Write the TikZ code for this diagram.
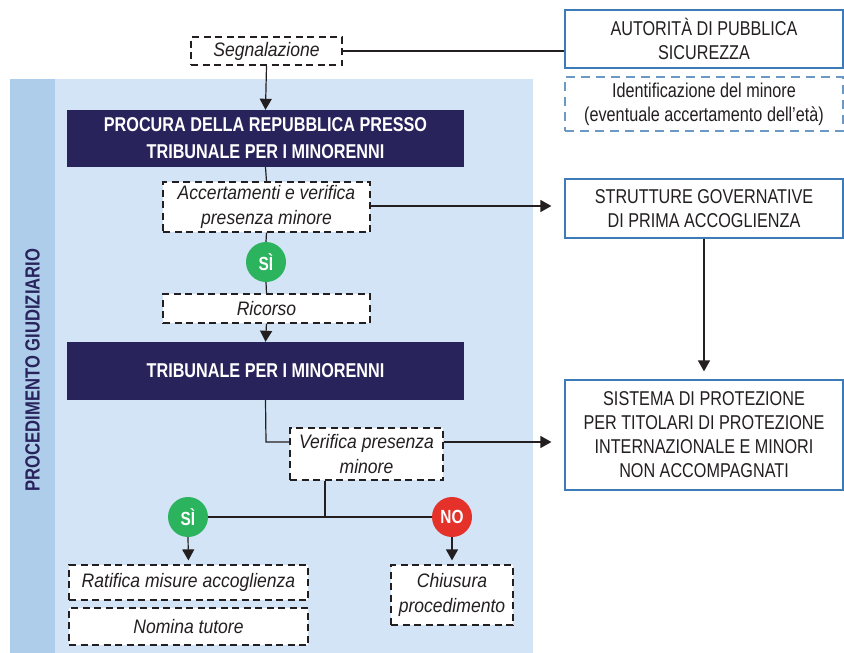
\documentclass[tikz,border=0pt]{standalone}
\usepackage{fontspec}
\setmainfont{Liberation Sans}[FakeStretch=0.81]
\newfontfamily\itfam{Liberation Sans}[FakeStretch=0.90]
\usetikzlibrary{arrows.meta}
\definecolor{navy}{HTML}{29235C}
\definecolor{panel}{HTML}{D2E4F5}
\definecolor{stripe}{HTML}{ADCDEA}
\definecolor{bluebd}{HTML}{3C7BB8}
\definecolor{blued}{HTML}{6C98C6}
\definecolor{okgreen}{HTML}{2BB35E}
\definecolor{nored}{HTML}{E4312A}
\definecolor{ink}{HTML}{231F20}
\begin{document}
\begin{tikzpicture}[x=1pt,y=-1pt,
  txt/.style={font=\fontsize{20}{24}\selectfont, text=ink, align=center, inner sep=0pt},
  dbox/.style={txt, draw=ink, fill=white, line width=1.2pt, dash pattern=on 7pt off 4.5pt, font=\fontsize{19.5}{25}\selectfont\itfam\itshape},
  sbox/.style={txt, draw=bluebd, fill=white, line width=1.2pt},
  bdbox/.style={txt, draw=blued, fill=white, line width=1.2pt, dash pattern=on 9pt off 6pt},
  navybox/.style={txt, fill=navy, text=white, font=\fontsize{20}{27}\selectfont\bfseries},
  badge/.style={circle, minimum size=40pt, inner sep=0pt, text=white, font=\fontsize{19}{20}\selectfont\bfseries},
  conn/.style={draw=ink, line width=1.2pt},
  arr/.style={conn, -{Triangle[length=11pt,width=12pt]}}
]
\useasboundingbox (0,0) rectangle (844,653);
% panel
\fill[panel] (10,79) rectangle (533,653);
\fill[stripe] (10,79) rectangle (55,653);
\node[rotate=90, text=navy, font=\fontsize{20.5}{22}\selectfont\bfseries, inner sep=0pt] (lbl) at (32.5,370) {PROCEDIMENTO GIUDIZIARIO};

% right column
\node[sbox, minimum width=278pt, minimum height=58pt] (aut) at (704,39) {AUTORITÀ DI PUBBLICA\\SICUREZZA};
\node[bdbox, minimum width=278pt, minimum height=54pt] (ide) at (704,104) {Identificazione del minore\\(eventuale accertamento dell’età)};
\node[sbox, minimum width=278pt, minimum height=59pt] (str) at (704,208.5) {STRUTTURE GOVERNATIVE\\DI PRIMA ACCOGLIENZA};
\node[sbox, minimum width=278pt, minimum height=110pt] (sis) at (704,435) {SISTEMA DI PROTEZIONE\\PER TITOLARI DI PROTEZIONE\\INTERNAZIONALE E MINORI\\NON ACCOMPAGNATI};

% main flow
\node[dbox, minimum width=151pt, minimum height=28pt] (seg) at (266.5,51) {Segnalazione};
\node[navybox, minimum width=397pt, minimum height=57pt] (pro) at (265.5,138.5) {PROCURA DELLA REPUBBLICA PRESSO\\TRIBUNALE PER I MINORENNI};
\node[dbox, minimum width=207pt, minimum height=50pt] (acc) at (266.5,207) {Accertamenti e verifica\\presenza minore};
\node[badge, fill=okgreen] (si1) at (266,262) {SÌ};
\node[dbox, minimum width=207pt, minimum height=29pt] (ric) at (266.5,308.5) {Ricorso};
\node[navybox, minimum width=397pt, minimum height=58pt] (tri) at (265.5,371) {TRIBUNALE PER I MINORENNI};
\node[dbox, minimum width=153pt, minimum height=52pt] (ver) at (366.5,454) {Verifica presenza\\minore};
\node[badge, fill=okgreen] (si2) at (188,517) {SÌ};
\node[badge, fill=nored] (no) at (452,517) {NO};
\node[dbox, minimum width=239pt, minimum height=35pt] (rat) at (188.5,582.5) {Ratifica misure accoglienza};
\node[dbox, minimum width=239pt, minimum height=37pt] (nom) at (188.5,626.5) {Nomina tutore};
\node[dbox, minimum width=122pt, minimum height=60pt] (chi) at (452,595) {Chiusura\\procedimento};

\coordinate (vj) at (325,517);
\coordinate (tv) at (266,442);

% connectors
\draw[conn] (seg.east |- 0,51) -- (aut.west |- 0,51);
\draw[arr] (seg.south) -- (pro.north);
\draw[conn] (pro.south) -- (acc.north);
\draw[arr, shorten >=13pt] (acc.east |- 0,206) -- (str.west |- 0,206);
\draw[conn] (acc.south) -- (si1.north);
\draw[conn] (si1.south) -- (ric.north);
\draw[arr] (ric.south) -- (tri.north);
\draw[arr, shorten >=8pt] (str.south) -- (sis.north);
\draw[conn] (tri.south) -- (tv) -- (ver.west |- tv);
\draw[arr, shorten >=13pt] (ver.east |- tv) -- (sis.west |- tv);
\draw[conn] (ver.south -| vj) -- (vj);
\draw[conn] (si2.east) -- (no.west);
\draw[arr, shorten >=4pt] (si2.south) -- (rat.north);
\draw[arr, shorten >=4pt] (no.south) -- (chi.north);
\end{tikzpicture}
\end{document}
